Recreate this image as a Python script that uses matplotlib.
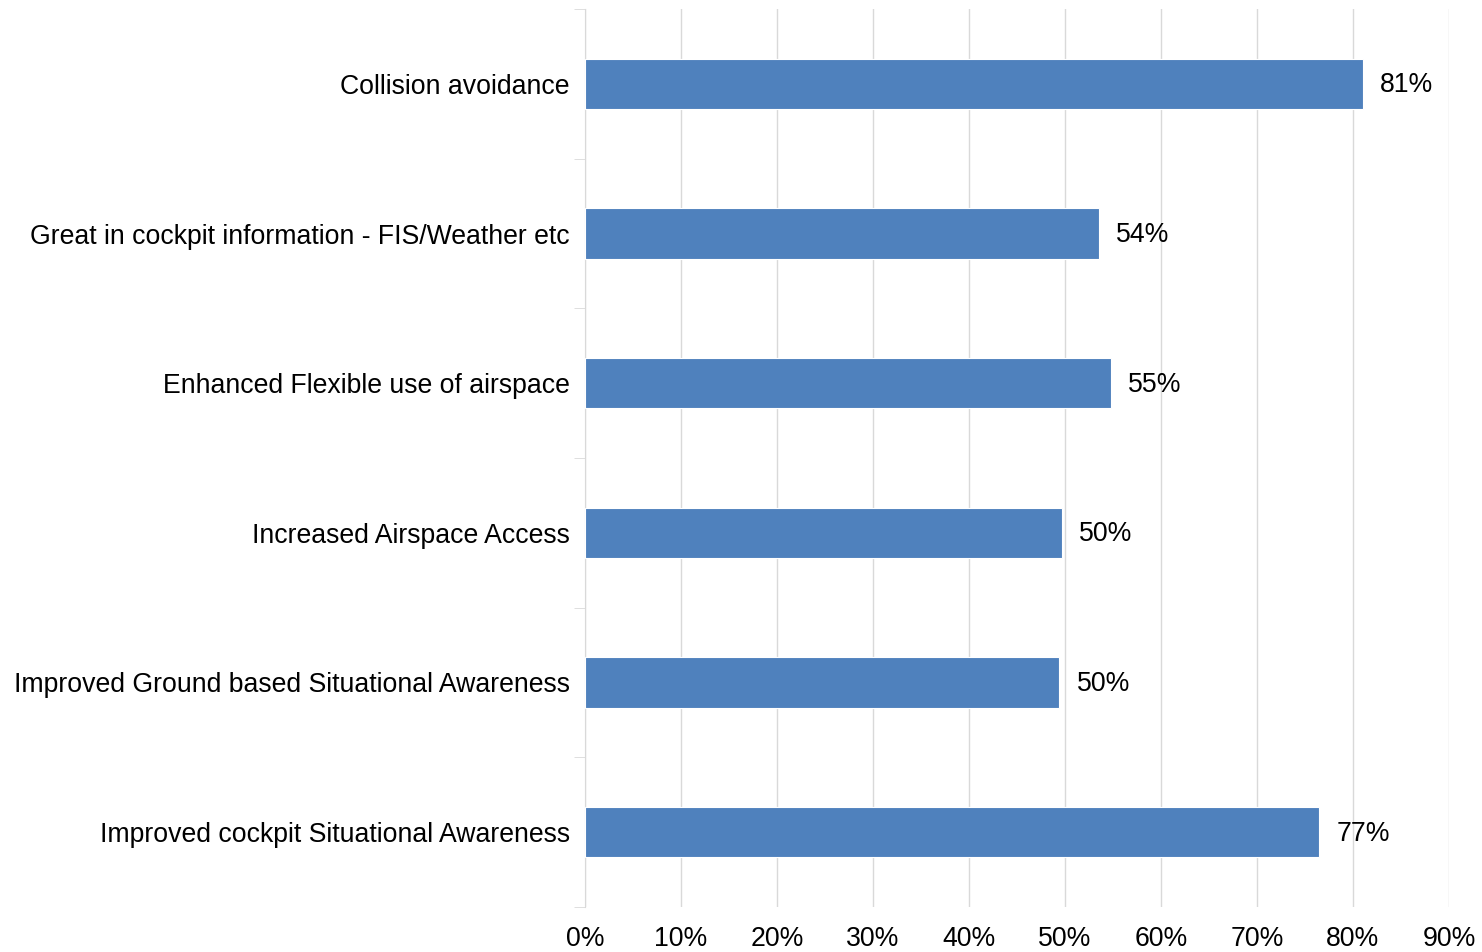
import matplotlib
matplotlib.use('Agg')
import matplotlib.pyplot as plt
import numpy as np

categories = [
    "Collision avoidance",
    "Great in cockpit information - FIS/Weather etc",
    "Enhanced Flexible use of airspace",
    "Increased Airspace Access",
    "Improved Ground based Situational Awareness",
    "Improved cockpit Situational Awareness",
]
values = [81, 53.5, 54.8, 49.7, 49.4, 76.5]
labels = ["81%", "54%", "55%", "50%", "50%", "77%"]

plt.rcParams['font.family'] = ['Liberation Sans', 'DejaVu Sans']

fig = plt.figure(figsize=(14.82, 9.52), dpi=100)
ax = fig.add_axes([0.3947, 0.0473, 0.583, 0.9432])

# top category first
y = np.arange(len(categories))[::-1]
ax.barh(y, values, height=0.335, color='#4f81bd', edgecolor='white', linewidth=0.8, zorder=3)

for yi, v, lab in zip(y, values, labels):
    ax.text(v + 1.8, yi - 0.01, lab, ha='left', va='center', fontsize=19.2)

ax.set_xlim(0, 90)
ax.set_ylim(-0.5, len(categories) - 0.5)
ax.set_xticks(np.arange(0, 91, 10))
ax.set_xticklabels([f"{t}%" for t in range(0, 91, 10)], fontsize=19.2)
ax.set_yticks(y)
ax.set_yticklabels(categories, fontsize=19.2)
ax.set_yticks(np.arange(-0.5, len(categories), 1), minor=True)

ax.grid(axis='x', color='#d9d9d9', linewidth=1, zorder=0)
for s in ['top', 'right', 'bottom']:
    ax.spines[s].set_visible(False)
ax.spines['left'].set_color('#d9d9d9')
ax.tick_params(axis='x', length=0, pad=14)
ax.tick_params(axis='y', which='major', length=0, pad=11)
ax.tick_params(axis='y', which='minor', length=8, color='#d9d9d9')

fig.savefig('out.png', dpi=100)
